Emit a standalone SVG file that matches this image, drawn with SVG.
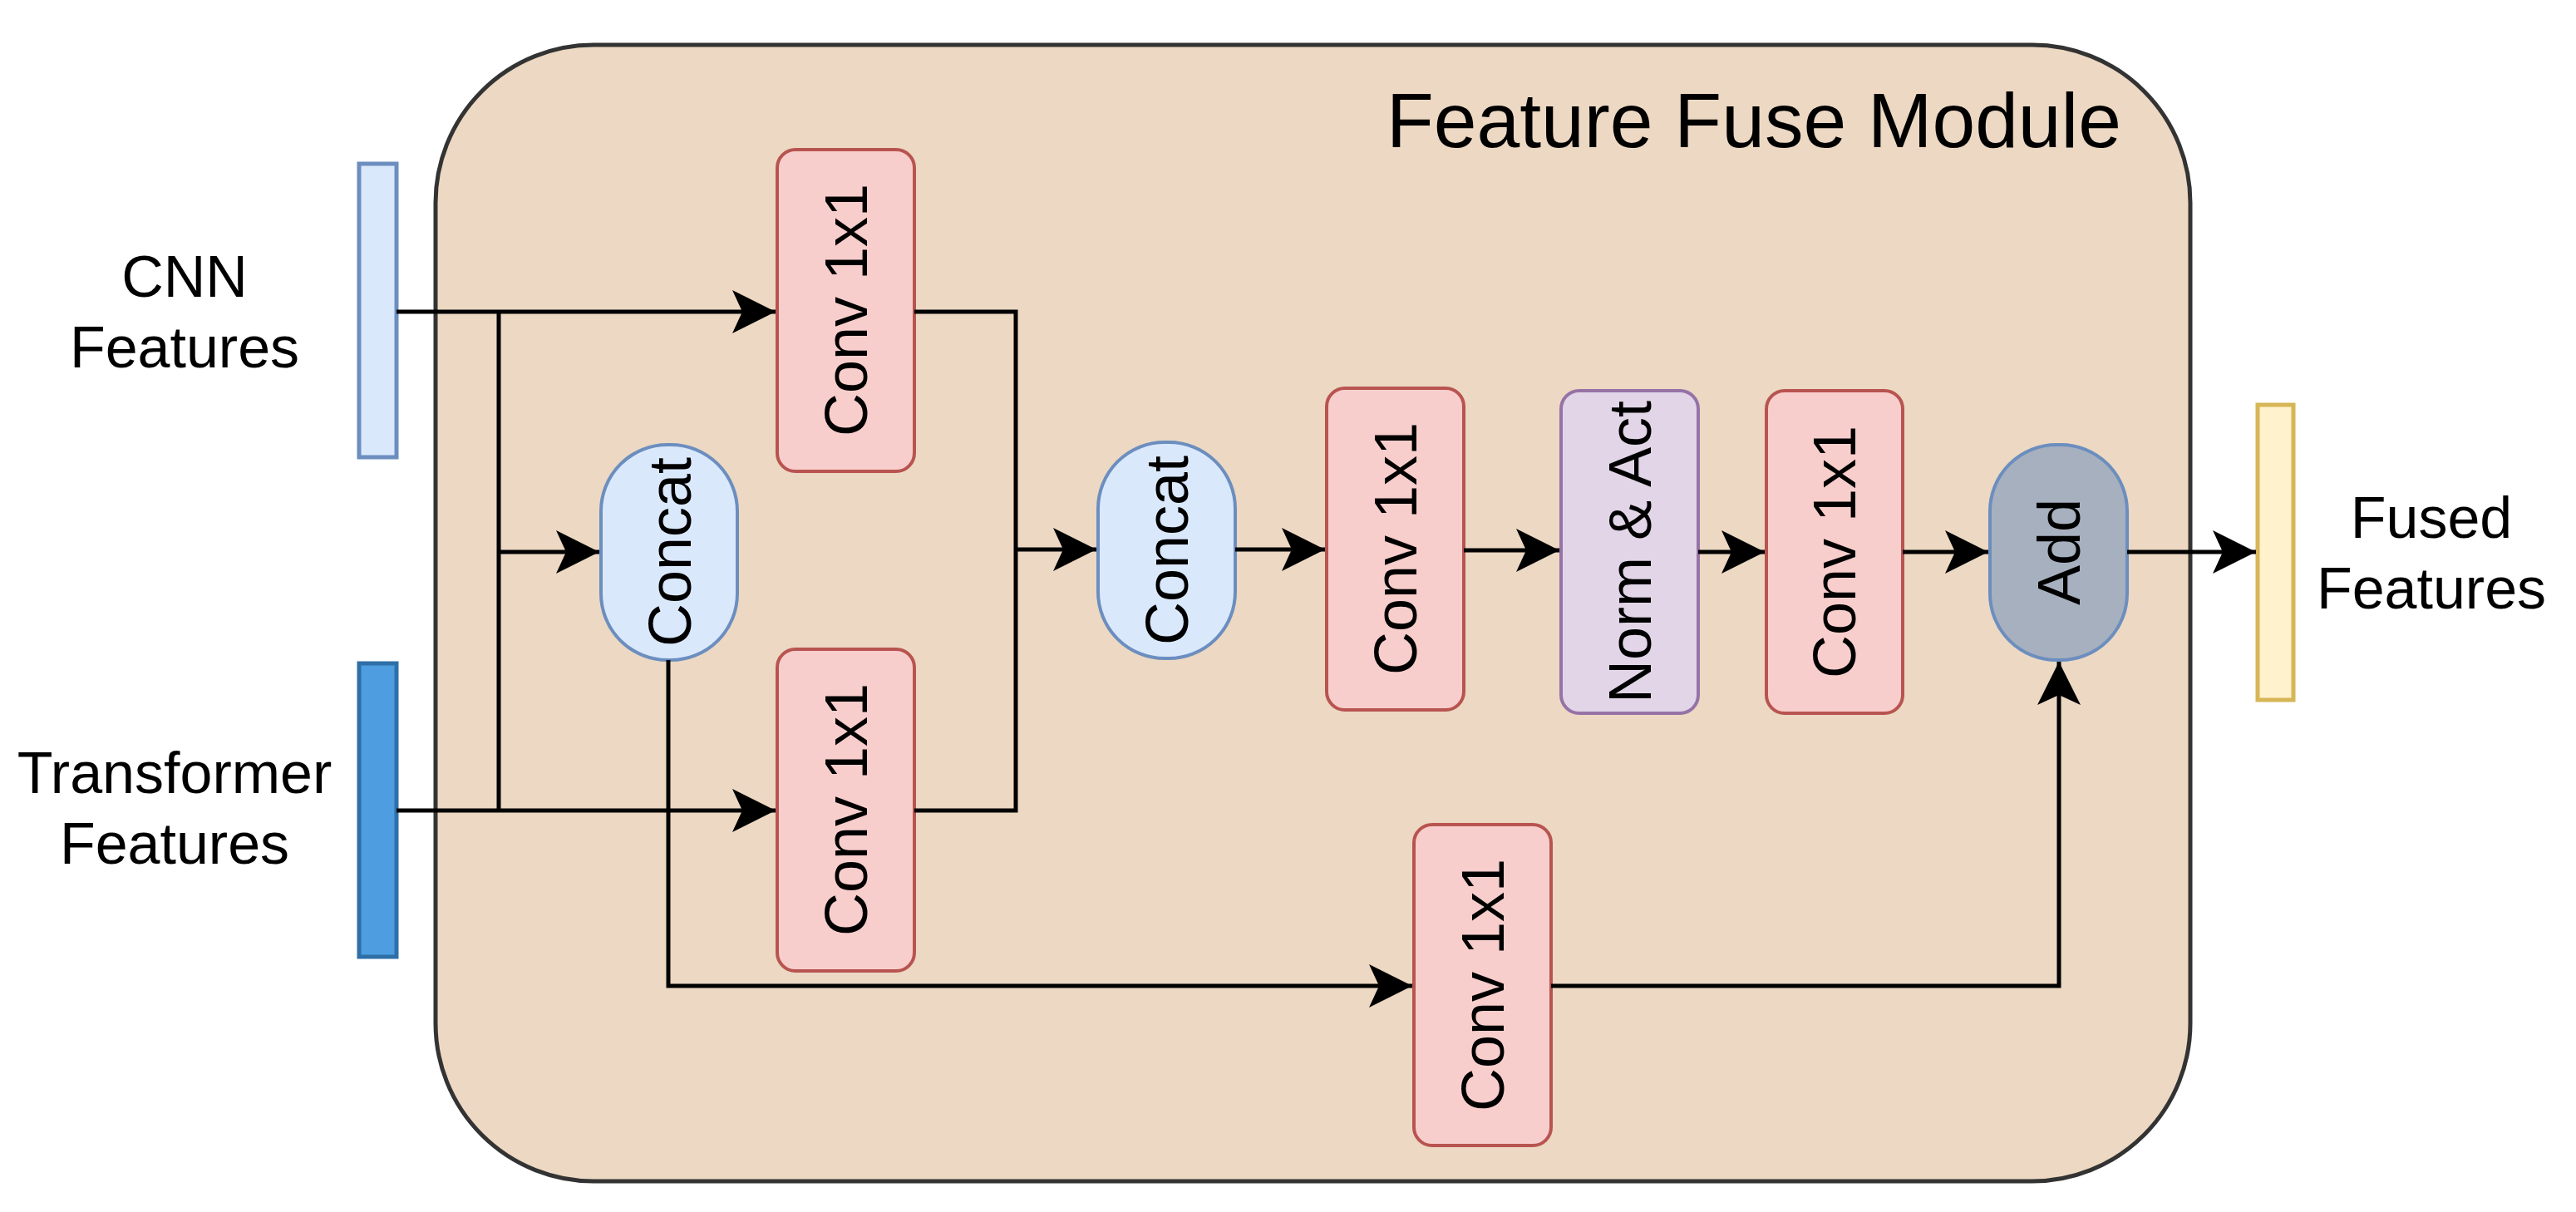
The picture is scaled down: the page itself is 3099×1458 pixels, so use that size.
<svg xmlns="http://www.w3.org/2000/svg" width="3099" height="1458" viewBox="0 0 3099 1458">
<style>
text{font-family:"Liberation Sans",Arial,sans-serif;fill:#000}
.conv{fill:#f8cecc;stroke:#b85450;stroke-width:4}
.cat{fill:#dae8fc;stroke:#6c8ebf;stroke-width:4}
.lbl{font-size:72px;text-anchor:middle}
.side{font-size:70px;text-anchor:middle}
.ln{fill:none;stroke:#000;stroke-width:5}
</style>
<defs>
<marker id="h" markerUnits="userSpaceOnUse" orient="auto" refX="0" refY="0" overflow="visible" markerWidth="1" markerHeight="1">
<path d="M0,0 L-52,-26 L-40,0 L-52,26 Z" fill="#000"/>
</marker>
</defs>
<g id="module">
<rect x="524" y="54" width="2111" height="1367" rx="190" fill="#ecd8c3" stroke="#333" stroke-width="5"/>
<text x="2110" y="177" font-size="93" text-anchor="middle">Feature Fuse Module</text>
</g>
<g id="cnn"><rect x="432" y="197" width="45" height="353" fill="#dae8fc" stroke="#6c8ebf" stroke-width="5"/>
<text class="side" x="222" y="357">CNN</text><text class="side" x="222" y="442">Features</text></g>
<g id="trans"><rect x="432" y="798" width="45" height="353" fill="#4d9de0" stroke="#2f6fa8" stroke-width="5"/>
<text class="side" x="210" y="954">Transformer</text><text class="side" x="210" y="1039">Features</text></g>
<g id="out"><rect x="2716" y="487" width="43" height="355" fill="#fff2cc" stroke="#d6b656" stroke-width="5"/>
<text class="side" x="2925" y="647">Fused</text><text class="side" x="2925" y="732">Features</text></g>
<g id="conv1"><rect class="conv" x="935" y="180" width="165" height="387" rx="22"/><text class="lbl" transform="translate(1043,373) rotate(-90)">Conv 1x1</text></g>
<g id="concat1"><rect class="cat" x="723" y="535" width="164" height="259" rx="80"/><text class="lbl" transform="translate(831,664) rotate(-90)">Concat</text></g>
<g id="conv2"><rect class="conv" x="935" y="781" width="165" height="387" rx="22"/><text class="lbl" transform="translate(1043,974) rotate(-90)">Conv 1x1</text></g>
<g id="concat2"><rect class="cat" x="1321" y="532" width="165" height="260" rx="80"/><text class="lbl" transform="translate(1429,662) rotate(-90)">Concat</text></g>
<g id="conv3"><rect class="conv" x="1596" y="467" width="165" height="387" rx="22"/><text class="lbl" transform="translate(1704,660) rotate(-90)">Conv 1x1</text></g>
<g id="norm"><rect x="1878" y="470" width="165" height="388" rx="22" fill="#e1d5e7" stroke="#9673a6" stroke-width="4"/><text class="lbl" transform="translate(1986,664) rotate(-90)">Norm &amp; Act</text></g>
<g id="conv4"><rect class="conv" x="2125" y="470" width="164" height="388" rx="22"/><text class="lbl" transform="translate(2232,664) rotate(-90)">Conv 1x1</text></g>
<g id="add"><rect x="2394" y="535" width="165" height="259" rx="80" fill="#a7b0bf" stroke="#6c8ebf" stroke-width="4"/><text class="lbl" transform="translate(2502,664) rotate(-90)">Add</text></g>
<g id="conv5"><rect class="conv" x="1701" y="992" width="165" height="386" rx="22"/><text class="lbl" transform="translate(1809,1185) rotate(-90)">Conv 1x1</text></g>
<g id="connectors">
<path class="ln" d="M477,375 H933" marker-end="url(#h)"/>
<path class="ln" d="M477,975 H933" marker-end="url(#h)"/>
<path class="ln" d="M600,375 V975"/>
<path class="ln" d="M600,664 H721" marker-end="url(#h)"/>
<path class="ln" d="M1100,375 H1222 V975 H1100"/>
<path class="ln" d="M1222,661 H1319" marker-end="url(#h)"/>
<path class="ln" d="M804,794 V1186 H1699" marker-end="url(#h)"/>
<path class="ln" d="M1486,661 H1594" marker-end="url(#h)"/>
<path class="ln" d="M1761,662 H1876" marker-end="url(#h)"/>
<path class="ln" d="M2043,664 H2123" marker-end="url(#h)"/>
<path class="ln" d="M2289,664 H2392" marker-end="url(#h)"/>
<path class="ln" d="M2559,664 H2714" marker-end="url(#h)"/>
<path class="ln" d="M1866,1186 H2477 V796" marker-end="url(#h)"/>
</g>
</svg>
